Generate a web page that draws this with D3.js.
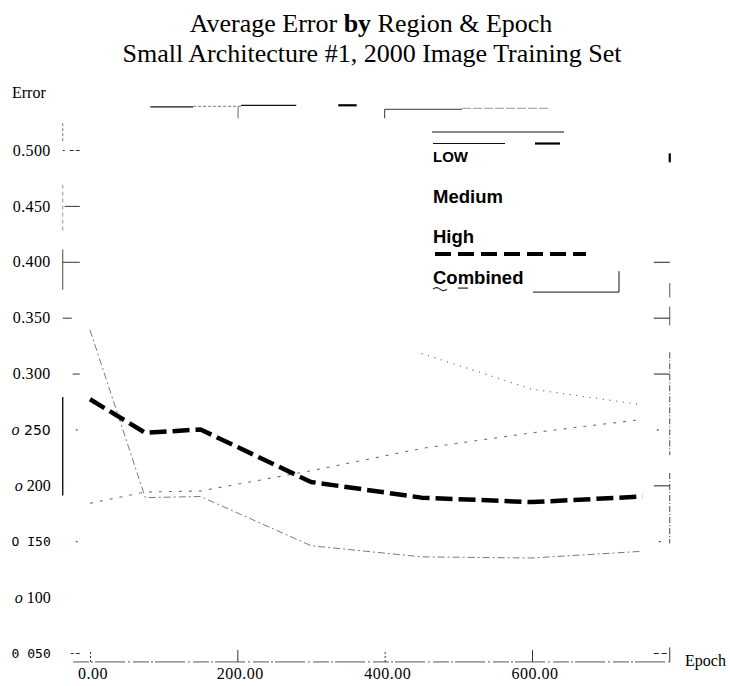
<!DOCTYPE html>
<html>
<head>
<meta charset="utf-8">
<script src="https://cdn.jsdelivr.net/npm/d3@7"></script>
<style>
  html, body { margin: 0; padding: 0; background: #fff; }
  svg { display: block; }
</style>
</head>
<body>
<svg id="chart" width="730" height="686"></svg>
<script>
// ---- data -------------------------------------------------------------
const epochs       = [0, 75, 150, 300, 450, 600, 750];
const lowErr       = [0.339, 0.189, 0.190, 0.146, 0.136, 0.135, 0.141];
const mediumErr    = [0.184, 0.194, 0.195, 0.213, 0.233, 0.247, 0.259];
const highErr      = [null, null, null, null, 0.318, 0.286, 0.272];
const combinedErr  = [0.277, 0.247, 0.250, 0.203, 0.189, 0.185, 0.190];

const yTickValues  = [0.05, 0.10, 0.15, 0.20, 0.25, 0.30, 0.35, 0.40, 0.45, 0.50];
const yTickLabels  = ["0 050", "o 100", "O I50", "o 200", "o 250", "0.300", "0.350", "0.400", "0.450", "0.500"];
const xTickValues  = [0, 200, 400, 600];
const xTickLabels  = ["0.00", "200.00", "400.00", "600.00"];
const legendLabels = ["LOW", "Medium", "High", "Combined"];
const titleLine1   = ["Average Error ", "by", " Region & Epoch"];
const titleLine2   = "Small Architecture #1, 2000 Image Training Set";

// plot frame extent, in data units
const frameEpoch = [-37, 787];
const frameErr   = [0.042, 0.540];

// ---- scales -------------------------------------------------------------
const x = d3.scaleLinear().domain([0, 600]).range([90, 532]);
const y = d3.scaleLinear().domain([0.05, 0.5]).range([653, 150]);

const svg = d3.select("#chart");
const SERIF = "'Liberation Serif', 'Times New Roman', serif";
const SANS  = "'Liberation Sans', Arial, sans-serif";
const MONO  = "'DejaVu Sans Mono', monospace";

// ---- title ---------------------------------------------------------------
const t1 = svg.append("text")
  .attr("x", 371).attr("y", 32)
  .attr("text-anchor", "middle")
  .style("font-family", SERIF).style("font-size", "26px").attr("fill", "#000");
titleLine1.forEach((s, i) => {
  t1.append("tspan").text(s).style("font-weight", i === 1 ? "bold" : "normal");
});
svg.append("text")
  .attr("x", 372).attr("y", 62)
  .attr("text-anchor", "middle")
  .style("font-family", SERIF).style("font-size", "26px").attr("fill", "#000")
  .text(titleLine2);

// ---- axis titles ------------------------------------------------------------
svg.append("text").attr("x", 12).attr("y", 98)
  .style("font-family", SERIF).style("font-size", "16px").text("Error");
svg.append("text").attr("x", 685).attr("y", 666)
  .style("font-family", SERIF).style("font-size", "16px").text("Epoch");

// ---- broken plot frame -------------------------------------------------------
const xL = x(frameEpoch[0]), xR = x(frameEpoch[1]);
const yT = y(frameErr[1]),  yB = y(frameErr[0]);
const frame = svg.append("g").attr("fill", "none");

// left edge pieces (error ranges) and their stroke styles
const leftRuns = [
  { r: [0.524, 0.506], c: "#555", w: 0.8, d: "3,2" },
  { r: [0.469, 0.427], c: "#777", w: 0.8, d: "4,3" },
  { r: [0.411, 0.375], c: "#333", w: 0.9, d: null },
  { r: [0.279, 0.191], c: "#000", w: 1.3, d: null }
];
leftRuns.forEach(s => frame.append("line")
  .attr("x1", xL).attr("x2", xL).attr("y1", y(s.r[0])).attr("y2", y(s.r[1]))
  .attr("stroke", s.c).attr("stroke-width", s.w).attr("stroke-dasharray", s.d));

// right edge pieces
const rightRuns = [
  { r: [0.497, 0.489], c: "#000", w: 2.2, d: null },
  { r: [0.381, 0.368], c: "#555", w: 1, d: null },
  { r: [0.360, 0.343], c: "#555", w: 1, d: null },
  { r: [0.319, 0.227], c: "#444", w: 1, d: "6,2,1,2" },
  { r: [0.211, 0.148], c: "#444", w: 1, d: "6,2,1,2" },
  { r: [0.055, 0.042], c: "#333", w: 1, d: null }
];
rightRuns.forEach(s => frame.append("line")
  .attr("x1", xR).attr("x2", xR).attr("y1", y(s.r[0])).attr("y2", y(s.r[1]))
  .attr("stroke", s.c).attr("stroke-width", s.w).attr("stroke-dasharray", s.d));

// top edge pieces (epoch ranges)
const topRuns = [
  { r: [82, 140],  c: "#111", w: 1.2, d: null, dy: 1.5 },
  { r: [140, 205], c: "#777", w: 1,   d: "3,2", dy: 1 },
  { r: [205, 280], c: "#111", w: 1.2, d: null, dy: 0 },
  { r: [337, 362], c: "#000", w: 2.2, d: null, dy: 0 },
  { r: [400, 505], c: "#333", w: 1,   d: null, dy: 4 },
  { r: [505, 622], c: "#999", w: 1,   d: "9,2", dy: 3 }
];
topRuns.forEach(s => frame.append("line")
  .attr("x1", x(s.r[0])).attr("x2", x(s.r[1]))
  .attr("y1", yT + s.dy).attr("y2", yT + s.dy)
  .attr("stroke", s.c).attr("stroke-width", s.w).attr("stroke-dasharray", s.d));
frame.append("line").attr("x1", x(201)).attr("x2", x(201))
  .attr("y1", yT + 1).attr("y2", yT + 13).attr("stroke", "#555").attr("stroke-width", 0.9);
frame.append("line").attr("x1", x(400)).attr("x2", x(400))
  .attr("y1", yT + 4).attr("y2", yT + 13).attr("stroke", "#333").attr("stroke-width", 1);

// bottom edge
frame.append("line")
  .attr("x1", x(-23)).attr("x2", xR).attr("y1", yB).attr("y2", yB)
  .attr("stroke", "#555").attr("stroke-width", 1).attr("stroke-dasharray", "16,2,2,2,30,3,2,3");

// ---- axes ------------------------------------------------------------------
const yTickDash = ["0,8,3,2,4", "0,100", "0,13,2,100", "0,100", "0,13,2,100",
                   "0,10,7", "9,100", null, "0,2,15", "2,5,4,2,4"];
const yAxis = svg.append("g")
  .attr("transform", `translate(${xL},0)`)
  .call(d3.axisLeft(y).tickValues(yTickValues)
    .tickFormat((d, i) => yTickLabels[i]).tickSize(-17).tickPadding(12));
yAxis.select(".domain").remove();
yAxis.selectAll(".tick line")
  .attr("stroke", "#333").attr("stroke-width", 1)
  .attr("stroke-dasharray", (d, i) => yTickDash[i]);
yAxis.selectAll(".tick text").each(function (d, i) {
  const t = d3.select(this).attr("fill", "#000");
  const lab = yTickLabels[i];
  if (lab.startsWith("o ")) {
    t.text(null).style("font-family", SERIF).style("font-size", "16px");
    t.append("tspan").text("o").style("font-style", "italic");
    t.append("tspan").text(lab.slice(1))
      .style("font-family", i === 4 ? "'DejaVu Sans', sans-serif" : SERIF)
      .style("font-size", i === 4 ? "14px" : "16px");
  } else if (lab.includes(".")) {
    t.style("font-family", SERIF).style("font-size", "16px").style("letter-spacing", "0.4px");
  } else {
    t.style("font-family", MONO).style("font-size", "13px");
  }
});

const rTickDash = ["0,3,5,3,5", "0,100", "0,9,2,100", null, "0,11,2,100",
                   null, null, null, "0,100", "0,100"];
const rAxis = svg.append("g")
  .attr("transform", `translate(${xR},0)`)
  .call(d3.axisRight(y).tickValues(yTickValues).tickFormat("").tickSize(-16));
rAxis.select(".domain").remove();
rAxis.selectAll(".tick line")
  .attr("stroke", "#222").attr("stroke-width", 1)
  .attr("stroke-dasharray", (d, i) => rTickDash[i]);

const xTickDash = ["2,2", null, "2,2", null];
const xAxis = svg.append("g")
  .attr("transform", `translate(0,${yB})`)
  .call(d3.axisBottom(x).tickValues(xTickValues)
    .tickFormat((d, i) => xTickLabels[i]).tickSize(-12).tickPadding(5.5));
xAxis.select(".domain").remove();
xAxis.selectAll(".tick line")
  .attr("stroke", "#333").attr("stroke-width", 1)
  .attr("stroke-dasharray", (d, i) => xTickDash[i]);
xAxis.selectAll(".tick text")
  .attr("fill", "#000").attr("dx", 2.5)
  .style("font-family", SERIF).style("font-size", "16px").style("letter-spacing", "0.5px");

// ---- series -----------------------------------------------------------------
const series = [
  { key: "low",      values: lowErr,      color: "#7a7a7a", width: 1,   dash: "7,3,2,3" },
  { key: "medium",   values: mediumErr,   color: "#707070", width: 1.1, dash: "3,7" },
  { key: "high",     values: highErr,     color: "#7a7a7a", width: 1.2, dash: "1.2,5.5" },
  { key: "combined", values: combinedErr, color: "#000",    width: 4.5, dash: "17,6" }
];
const line = d3.line()
  .defined(d => d[1] != null)
  .x(d => x(d[0])).y(d => y(d[1]));

svg.append("g").attr("fill", "none")
  .selectAll("path").data(series).join("path")
  .attr("d", s => line(epochs.map((e, i) => [e, s.values[i]])))
  .attr("stroke", s => s.color)
  .attr("stroke-width", s => s.width)
  .attr("stroke-dasharray", s => s.dash)
  .attr("stroke-linejoin", "round");

// ---- legend -------------------------------------------------------------------
const lgX = 433, lgY0 = 162, lgStep = 40.7;
const lg = svg.append("g");
legendLabels.forEach((lab, i) => {
  lg.append("text")
    .attr("x", lgX).attr("y", lgY0 + i * lgStep)
    .style("font-family", SANS).style("font-weight", "bold")
    .style("font-size", i === 0 ? "15px" : "18.5px")
    .text(lab);
});
// sample strokes sit above their labels
const sampleLen = [131, 0, 0, 153];
series.forEach((s, i) => {
  if (!sampleLen[i]) return;
  const sy = lgY0 + i * lgStep - 30;
  lg.append("line")
    .attr("x1", lgX + (i === 3 ? 2 : -1)).attr("x2", lgX + sampleLen[i])
    .attr("y1", sy).attr("y2", sy)
    .attr("stroke", i === 3 ? "#000" : "#111")
    .attr("stroke-width", i === 3 ? 4 : 1)
    .attr("stroke-dasharray", i === 3 ? "16,7" : null);
});
// stray strokes around the key
lg.append("line").attr("x1", lgX).attr("x2", lgX + 72).attr("y1", lgY0 - 18.5).attr("y2", lgY0 - 18.5)
  .attr("stroke", "#111").attr("stroke-width", 1);
lg.append("line").attr("x1", lgX + 102).attr("x2", lgX + 127).attr("y1", lgY0 - 18.5).attr("y2", lgY0 - 18.5)
  .attr("stroke", "#000").attr("stroke-width", 2.2);
const cy = lgY0 + 3 * lgStep;
lg.append("path")
  .attr("d", `M${lgX},${cy + 5} q3.5,-3 7,0 t7,0`)
  .attr("fill", "none").attr("stroke", "#222").attr("stroke-width", 1.1);
lg.append("line").attr("x1", lgX + 25).attr("x2", lgX + 35).attr("y1", cy + 4).attr("y2", cy + 4)
  .attr("stroke", "#222").attr("stroke-width", 1.2);
lg.append("path")
  .attr("d", `M${lgX + 100},${cy + 8} H${lgX + 186} V${cy - 13}`)
  .attr("fill", "none").attr("stroke", "#111").attr("stroke-width", 1);
</script>
</body>
</html>
